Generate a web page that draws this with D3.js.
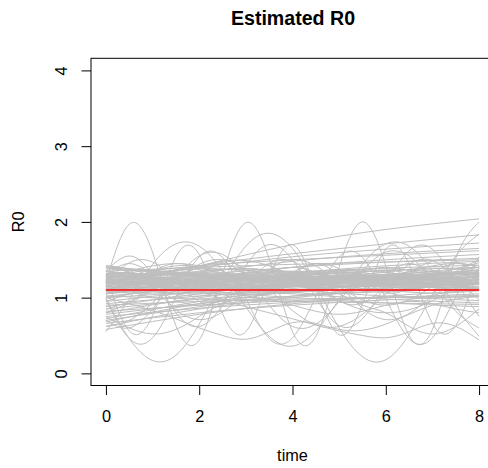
<!DOCTYPE html>
<html>
<head>
<meta charset="utf-8">
<script src="https://cdn.jsdelivr.net/npm/d3@7"></script>
<style>
  html, body { margin: 0; padding: 0; background: #ffffff; }
  svg { display: block; font-family: "Liberation Sans", Arial, Helvetica, sans-serif; }
</style>
</head>
<body>
<svg id="chart" width="488" height="468"></svg>
<script>
// Sample times for the three kinds of trajectories
const coarseTimes = [0, 2, 4, 6, 8];
const unitTimes = [0, 1, 2, 3, 4, 5, 6, 7, 8];
const fineTimes = [0, 0.5, 1, 1.5, 2, 2.5, 3, 3.5, 4, 4.5, 5, 5.5, 6, 6.5, 7, 7.5, 8];

// Slowly varying R0 trajectories, sampled at coarseTimes
const smoothTrajectories = [
  [1.15, 1.42, 1.70, 1.90, 2.04],
  [1.20, 1.42, 1.58, 1.71, 1.83],
  [1.25, 1.40, 1.54, 1.64, 1.72],
  [1.10, 1.32, 1.48, 1.58, 1.65],
  [1.30, 1.42, 1.50, 1.56, 1.62],
  [1.05, 1.25, 1.40, 1.50, 1.57],
  [1.18, 1.30, 1.40, 1.47, 1.52],
  [1.35, 1.40, 1.44, 1.47, 1.50],
  [1.00, 1.18, 1.32, 1.42, 1.48],
  [1.22, 1.28, 1.34, 1.39, 1.43],
  [1.12, 1.20, 1.26, 1.30, 1.33],
  [1.28, 1.27, 1.26, 1.25, 1.24],
  [1.05, 1.15, 1.22, 1.28, 1.32],
  [1.18, 1.20, 1.22, 1.23, 1.24],
  [1.40, 1.32, 1.26, 1.22, 1.19],
  [1.08, 1.12, 1.15, 1.17, 1.19],
  [1.22, 1.18, 1.16, 1.14, 1.13],
  [1.32, 1.30, 1.28, 1.27, 1.26],
  [1.14, 1.22, 1.30, 1.36, 1.40],
  [1.25, 1.22, 1.20, 1.19, 1.18],
  [0.58, 0.78, 0.92, 1.02, 1.10],
  [0.62, 0.85, 1.00, 1.10, 1.18],
  [0.66, 0.80, 0.90, 0.97, 1.02],
  [0.70, 0.88, 1.02, 1.12, 1.20],
  [0.72, 0.95, 1.10, 1.20, 1.27],
  [0.75, 0.86, 0.94, 1.00, 1.05],
  [0.78, 0.92, 1.02, 1.08, 1.12],
  [0.80, 1.00, 1.14, 1.24, 1.32],
  [0.82, 0.90, 0.96, 1.00, 1.03],
  [0.85, 0.98, 1.07, 1.13, 1.18],
  [0.88, 1.05, 1.18, 1.28, 1.36],
  [0.90, 0.95, 0.98, 1.00, 1.01],
  [0.92, 1.02, 1.10, 1.16, 1.20],
  [0.95, 1.08, 1.18, 1.26, 1.32],
  [0.68, 0.92, 1.08, 1.20, 1.28],
  [1.40, 1.30, 1.22, 1.16, 1.12],
  [1.35, 1.20, 1.10, 1.02, 0.96],
  [1.30, 1.15, 1.05, 0.98, 0.93],
  [1.25, 1.10, 1.00, 0.93, 0.88],
  [1.02, 0.98, 0.95, 0.93, 0.91]
];

// Trajectories with small wiggles close to the bulk, sampled at unitTimes
const coreTrajectories = [
  [1.20, 1.25, 1.18, 1.22, 1.28, 1.24, 1.20, 1.26, 1.30],
  [1.15, 1.10, 1.18, 1.24, 1.20, 1.15, 1.18, 1.25, 1.22],
  [1.30, 1.26, 1.22, 1.28, 1.32, 1.27, 1.24, 1.29, 1.33],
  [1.10, 1.16, 1.22, 1.18, 1.14, 1.20, 1.26, 1.22, 1.18],
  [1.25, 1.32, 1.28, 1.22, 1.26, 1.33, 1.30, 1.25, 1.28],
  [1.05, 1.12, 1.16, 1.12, 1.08, 1.14, 1.20, 1.17, 1.12],
  [1.35, 1.30, 1.34, 1.38, 1.33, 1.29, 1.34, 1.39, 1.35],
  [1.18, 1.24, 1.30, 1.26, 1.21, 1.25, 1.31, 1.28, 1.23],
  [1.22, 1.17, 1.13, 1.18, 1.24, 1.21, 1.16, 1.19, 1.25],
  [1.12, 1.19, 1.25, 1.30, 1.27, 1.22, 1.26, 1.31, 1.36],
  [1.28, 1.22, 1.16, 1.12, 1.16, 1.22, 1.27, 1.24, 1.19],
  [1.08, 1.06, 1.12, 1.18, 1.16, 1.11, 1.09, 1.14, 1.20],
  [1.38, 1.34, 1.28, 1.25, 1.29, 1.35, 1.38, 1.34, 1.30],
  [1.16, 1.21, 1.19, 1.14, 1.17, 1.23, 1.27, 1.23, 1.19],
  [1.24, 1.28, 1.35, 1.38, 1.34, 1.29, 1.27, 1.31, 1.37],
  [1.02, 1.08, 1.14, 1.19, 1.22, 1.20, 1.17, 1.20, 1.24],
  [1.32, 1.27, 1.24, 1.26, 1.31, 1.36, 1.33, 1.28, 1.26],
  [1.20, 1.14, 1.10, 1.13, 1.19, 1.24, 1.22, 1.17, 1.14],
  [1.14, 1.20, 1.27, 1.32, 1.35, 1.31, 1.26, 1.24, 1.28],
  [1.26, 1.30, 1.27, 1.21, 1.18, 1.22, 1.29, 1.34, 1.31],
  [1.10, 1.13, 1.17, 1.21, 1.24, 1.26, 1.28, 1.30, 1.32],
  [1.34, 1.31, 1.29, 1.27, 1.26, 1.25, 1.24, 1.24, 1.23],
  [1.18, 1.26, 1.22, 1.16, 1.20, 1.27, 1.24, 1.18, 1.21],
  [1.06, 1.10, 1.07, 1.04, 1.08, 1.13, 1.10, 1.06, 1.09],
  [1.40, 1.36, 1.31, 1.27, 1.24, 1.22, 1.21, 1.20, 1.20],
  [1.12, 1.08, 1.05, 1.09, 1.15, 1.20, 1.18, 1.13, 1.10],
  [1.22, 1.29, 1.33, 1.30, 1.24, 1.21, 1.25, 1.31, 1.34],
  [1.30, 1.24, 1.20, 1.23, 1.29, 1.32, 1.28, 1.22, 1.20],
  [1.16, 1.13, 1.17, 1.23, 1.28, 1.25, 1.19, 1.16, 1.19],
  [1.24, 1.20, 1.24, 1.30, 1.28, 1.22, 1.19, 1.23, 1.29],
  [1.00, 1.04, 1.08, 1.12, 1.15, 1.18, 1.20, 1.22, 1.24],
  [1.28, 1.33, 1.38, 1.36, 1.30, 1.26, 1.29, 1.35, 1.40],
  [1.14, 1.18, 1.15, 1.10, 1.12, 1.18, 1.22, 1.19, 1.15],
  [1.20, 1.22, 1.26, 1.24, 1.19, 1.16, 1.20, 1.26, 1.27],
  [1.08, 1.14, 1.20, 1.23, 1.21, 1.17, 1.15, 1.18, 1.23]
];

// Oscillating R0 trajectories, sampled at fineTimes
const wavyTrajectories = [
  [1.21, 1.97, 1.60, 0.63, 0.44, 1.31, 1.99, 1.51, 0.55, 0.49, 1.40, 2.00, 1.42, 0.50, 0.58, 1.52, 2.00],
  [0.99, 0.46, 0.17, 0.24, 0.65, 1.21, 1.68, 1.85, 1.65, 1.16, 0.60, 0.22, 0.18, 0.51, 1.04, 1.55, 1.84],
  [0.55, 0.98, 1.44, 1.71, 1.68, 1.35, 0.88, 0.49, 0.36, 0.56, 0.98, 1.44, 1.71, 1.68, 1.35, 0.88, 0.49],
  [1.29, 0.56, 0.76, 1.54, 1.57, 0.79, 0.55, 1.26, 1.70, 1.12, 0.51, 0.91, 1.64, 1.44, 0.66, 0.63, 1.41],
  [0.98, 0.46, 0.47, 1.01, 1.54, 1.53, 0.99, 0.46, 0.47, 1.01, 1.54, 1.53, 0.99, 0.46, 0.47, 1.01, 1.54],
  [1.00, 0.92, 0.83, 0.72, 0.60, 0.50, 0.45, 0.55, 0.67, 0.66, 0.58, 0.57, 0.65, 0.78, 0.90, 0.98, 1.02],
  [1.10, 1.20, 1.25, 1.20, 1.10, 0.98, 0.88, 0.80, 0.72, 0.64, 0.56, 0.50, 0.47, 0.55, 0.66, 0.62, 0.44],
  [0.75, 0.60, 0.52, 0.58, 0.75, 0.92, 1.00, 0.98, 0.90, 0.82, 0.78, 0.82, 0.90, 0.95, 0.92, 0.85, 0.80],
  [1.20, 1.25, 1.22, 1.15, 1.12, 1.15, 1.22, 1.28, 1.26, 1.18, 1.05, 0.90, 0.80, 0.62, 0.52, 0.62, 0.85],
  [1.20, 1.46, 1.47, 1.22, 0.95, 0.93, 1.18, 1.45, 1.48, 1.24, 0.96, 0.93, 1.16, 1.44, 1.49, 1.26, 0.97],
  [1.40, 1.33, 1.15, 0.97, 0.90, 0.97, 1.15, 1.33, 1.40, 1.33, 1.15, 0.97, 0.90, 0.97, 1.15, 1.33, 1.40],
  [1.05, 1.14, 1.34, 1.45, 1.37, 1.17, 1.06, 1.13, 1.33, 1.45, 1.38, 1.18, 1.06, 1.12, 1.32, 1.45, 1.39],
  [0.80, 0.93, 1.09, 1.26, 1.40, 1.48, 1.49, 1.42, 1.29, 1.12, 0.96, 0.84, 0.80, 0.84, 0.96, 1.12, 1.29],
  [1.42, 1.36, 1.14, 0.84, 0.71, 0.81, 1.07, 1.37, 1.50, 1.42, 1.17, 0.86, 0.71, 0.79, 1.04, 1.34, 1.49],
  [1.25, 1.35, 1.42, 1.45, 1.42, 1.35, 1.25, 1.15, 1.08, 1.05, 1.08, 1.15, 1.25, 1.35, 1.42, 1.45, 1.42],
  [1.30, 1.45, 1.30, 1.15, 1.30, 1.45, 1.30, 1.15, 1.30, 1.45, 1.30, 1.15, 1.30, 1.45, 1.30, 1.15, 1.30],
  [0.62, 0.70, 0.93, 1.22, 1.44, 1.50, 1.37, 1.11, 0.83, 0.64, 0.62, 0.78, 1.05, 1.32, 1.48, 1.48, 1.32],
  [0.95, 1.05, 1.10, 1.05, 1.02, 1.10, 1.22, 1.28, 1.24, 1.20, 1.25, 1.35, 1.40, 1.36, 1.32, 1.38, 1.46],
  [1.35, 1.28, 1.18, 1.12, 1.15, 1.25, 1.33, 1.30, 1.20, 1.10, 1.06, 1.12, 1.22, 1.28, 1.25, 1.16, 1.10],
  [0.70, 0.60, 0.85, 1.25, 1.55, 1.57, 1.30, 0.90, 0.62, 0.65, 0.95, 1.35, 1.60, 1.55, 1.22, 0.82, 0.60],
  [1.15, 1.22, 1.30, 1.33, 1.28, 1.20, 1.15, 1.17, 1.25, 1.32, 1.35, 1.30, 1.22, 1.18, 1.20, 1.27, 1.33],
  [1.25, 1.10, 1.00, 1.02, 1.15, 1.30, 1.38, 1.34, 1.22, 1.12, 1.10, 1.16, 1.26, 1.34, 1.36, 1.28, 1.18],
  [1.42, 1.38, 1.28, 1.18, 1.12, 1.12, 1.18, 1.26, 1.32, 1.34, 1.30, 1.22, 1.15, 1.12, 1.15, 1.22, 1.30],
  [1.05, 1.18, 1.26, 1.24, 1.14, 1.04, 1.00, 1.06, 1.17, 1.26, 1.27, 1.19, 1.08, 1.01, 1.03, 1.12, 1.23],
  [1.18, 1.25, 1.35, 1.42, 1.40, 1.30, 1.18, 1.10, 1.08, 1.14, 1.24, 1.33, 1.36, 1.32, 1.24, 1.16, 1.12],
  [1.35, 1.55, 1.30, 0.80, 0.62, 0.90, 1.42, 1.70, 1.50, 1.00, 0.63, 0.72, 1.18, 1.62, 1.64, 1.22, 0.75],
  [0.85, 0.95, 1.12, 1.30, 1.38, 1.32, 1.18, 1.08, 1.06, 1.14, 1.26, 1.34, 1.34, 1.26, 1.16, 1.10, 1.10]
];

// Overall point estimate of R0
const r0Estimate = 1.1;

const xTicks = [0, 2, 4, 6, 8];
const yTicks = [0, 1, 2, 3, 4];
const titleText = "Estimated R0";
const xLabel = "time";
const yLabel = "R0";

const svg = d3.select("#chart");
const plot = { left: 91, right: 494, top: 58.3, bottom: 385.5 };

// Axis ranges padded by 4% on each side
const x = d3.scaleLinear().domain([-0.32, 8.32]).range([plot.left, plot.right]);
const y = d3.scaleLinear().domain([-0.16, 4.16]).range([plot.bottom, plot.top]);

svg.append("defs").append("clipPath").attr("id", "plot-clip")
  .append("rect")
  .attr("x", plot.left).attr("y", plot.top)
  .attr("width", plot.right - plot.left).attr("height", plot.bottom - plot.top);

const lines = svg.append("g").attr("clip-path", "url(#plot-clip)");

function drawTrajectories(data, times) {
  const gen = d3.line()
    .x((d, i) => x(times[i]))
    .y(d => y(d))
    .curve(d3.curveNatural);
  lines.selectAll(null)
    .data(data)
    .enter().append("path")
    .attr("d", gen)
    .attr("fill", "none")
    .attr("stroke", "#BEBEBE")
    .attr("stroke-width", 1);
}

drawTrajectories(smoothTrajectories, coarseTimes);
drawTrajectories(coreTrajectories, unitTimes);
drawTrajectories(wavyTrajectories, fineTimes);

// Horizontal line at the point estimate
lines.append("line")
  .attr("x1", x(0)).attr("x2", x(8))
  .attr("y1", y(r0Estimate)).attr("y2", y(r0Estimate))
  .attr("stroke", "#FF0000")
  .attr("stroke-width", 1.5);

// Plot frame
svg.append("rect")
  .attr("x", plot.left).attr("y", plot.top)
  .attr("width", plot.right - plot.left).attr("height", plot.bottom - plot.top)
  .attr("fill", "none").attr("stroke", "#000").attr("stroke-width", 1);

// Axes
const xAxis = svg.append("g")
  .attr("transform", `translate(0,${plot.bottom})`)
  .call(d3.axisBottom(x).tickValues(xTicks).tickFormat(d3.format("d")).tickSize(9.5).tickPadding(0));
xAxis.select(".domain").remove();
xAxis.selectAll(".tick line").attr("stroke", "#000");
xAxis.selectAll(".tick text")
  .attr("y", 36).attr("dy", null)
  .attr("font-size", 16.3).attr("fill", "#000")
  .attr("font-family", "Liberation Sans, Arial, sans-serif");

const yAxis = svg.append("g")
  .attr("transform", `translate(${plot.left},0)`)
  .call(d3.axisLeft(y).tickValues(yTicks).tickFormat(d3.format("d")).tickSize(9.5).tickPadding(0));
yAxis.select(".domain").remove();
yAxis.selectAll(".tick line").attr("stroke", "#000");
yAxis.selectAll(".tick text")
  .attr("x", null).attr("dy", null)
  .attr("transform", "translate(-24,0) rotate(-90)")
  .attr("text-anchor", "middle")
  .attr("font-size", 16.3).attr("fill", "#000")
  .attr("font-family", "Liberation Sans, Arial, sans-serif");

// Title and axis labels
svg.append("text")
  .attr("x", 293).attr("y", 25)
  .attr("text-anchor", "middle")
  .attr("font-size", 19.6).attr("font-weight", "bold")
  .text(titleText);

svg.append("text")
  .attr("x", x(4)).attr("y", 461)
  .attr("text-anchor", "middle")
  .attr("font-size", 16.3)
  .text(xLabel);

svg.append("text")
  .attr("transform", `translate(24,${y(2)}) rotate(-90)`)
  .attr("text-anchor", "middle")
  .attr("font-size", 16.3)
  .text(yLabel);
</script>
</body>
</html>
